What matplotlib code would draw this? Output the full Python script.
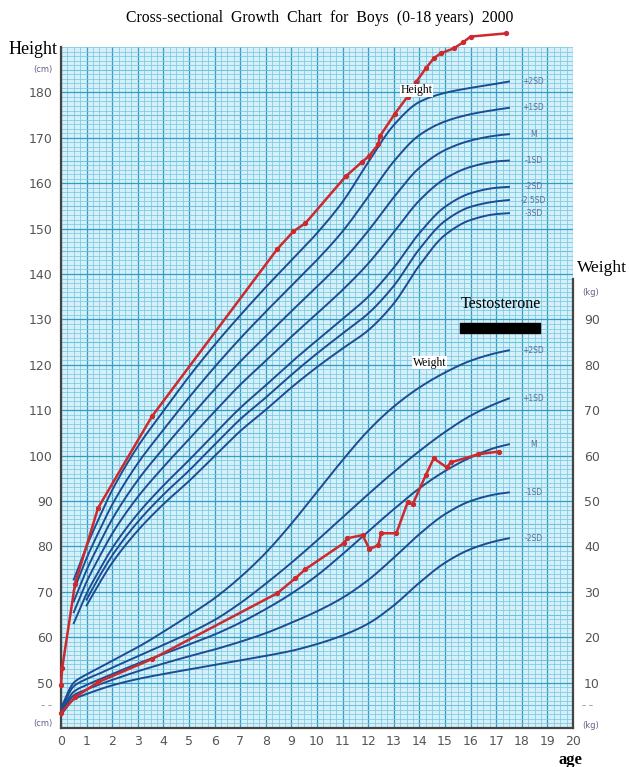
import numpy as np
import matplotlib
matplotlib.use('Agg')
import matplotlib.pyplot as plt

# ---- reference curves ----
h_ages = [0.5, 1, 1.5, 2, 3, 4, 5, 6, 7, 8, 9, 10, 11, 12, 13, 14, 15, 16, 17, 17.5]
h_p2 = [72.7, 80.0, 86.4, 92.4, 102.0, 109.8, 117.4, 124.4, 130.9, 137.1, 143.0, 149.0, 155.9, 164.6, 172.8, 177.9, 179.9, 181.0, 181.9, 182.4]
h_p1 = [70.3, 77.4, 83.5, 89.2, 98.3, 105.7, 112.8, 119.5, 125.8, 131.7, 137.4, 143.1, 149.4, 157.0, 164.8, 170.6, 173.6, 175.2, 176.2, 176.6]
h_m = [67.9, 74.8, 80.6, 86.0, 94.6, 101.6, 108.2, 114.6, 120.7, 126.3, 131.8, 137.2, 142.9, 149.5, 156.9, 163.4, 167.3, 169.4, 170.5, 170.8]
h_m1 = [65.5, 72.2, 77.7, 82.8, 90.9, 97.5, 103.6, 109.7, 115.6, 120.9, 126.2, 131.3, 136.5, 142.3, 149.2, 156.2, 161.0, 163.6, 164.8, 165.0]
h_m2 = [63.1, 69.6, 74.8, 79.6, 87.2, 93.4, 99.0, 104.8, 110.5, 115.5, 120.6, 125.4, 130.1, 135.0, 141.4, 149.0, 154.8, 157.8, 159.0, 159.2]
h_ages_low = h_ages[1:]
h_m25 = [68.3, 73.4, 78.0, 85.4, 91.4, 96.7, 102.4, 108.0, 112.8, 117.8, 122.5, 126.9, 131.3, 137.4, 145.5, 151.7, 154.8, 156.0, 156.3]
h_m3 = [67.0, 71.9, 76.4, 83.5, 89.3, 94.4, 99.9, 105.4, 110.1, 115.0, 119.5, 123.6, 127.6, 133.5, 141.9, 148.6, 151.9, 153.2, 153.4]
h_labels = ['+2SD', '+1SD', 'M', '-1SD', '-2SD', '-2.5SD', '-3SD']

w_ages = [0, 0.5, 1, 1.5, 2, 3, 4, 5, 6, 7, 8, 9, 10, 11, 12, 13, 14, 15, 16, 17, 17.5]
w_p2 = [4.4, 10.0, 11.8, 13.3, 14.8, 17.8, 21.2, 24.8, 28.6, 33.2, 38.6, 45.0, 52.0, 59.0, 65.5, 70.8, 75.0, 78.3, 80.9, 82.6, 83.2]
w_p1 = [4.0, 9.2, 10.8, 12.0, 13.3, 15.8, 18.3, 20.9, 23.8, 27.5, 31.8, 36.4, 41.3, 46.4, 51.5, 56.4, 61.0, 65.2, 68.8, 71.5, 72.6]
w_m = [3.6, 8.0, 9.5, 10.7, 11.9, 14.2, 16.3, 18.4, 20.6, 23.2, 26.2, 29.6, 33.6, 38.3, 43.3, 48.2, 52.8, 56.6, 59.6, 61.8, 62.5]
w_m1 = [3.2, 7.2, 8.5, 9.6, 10.6, 12.5, 14.2, 15.8, 17.3, 19.0, 20.9, 23.2, 25.7, 28.7, 32.6, 37.5, 42.7, 47.1, 50.0, 51.5, 51.9]
w_m2 = [2.9, 6.3, 7.5, 8.5, 9.4, 10.8, 11.9, 12.9, 13.9, 14.9, 15.9, 17.0, 18.5, 20.4, 23.0, 27.0, 32.0, 36.4, 39.4, 41.2, 41.8]
w_labels = ['+2SD', '+1SD', 'M', '-1SD', '-2SD']

# ---- patient measurements ----
pt_h_age = [0, 0.05, 0.55, 1.45, 3.56, 8.45, 9.08, 9.55, 11.12, 11.74, 12.02, 12.4, 12.45,
            13.03, 13.54, 13.86, 14.25, 14.56, 14.83, 15.34, 15.7, 16.0, 17.38]
pt_height = [49.5, 53.3, 71.8, 88.5, 108.7, 145.5, 149.4, 151.2, 161.5, 164.6, 165.9, 168.6, 170.3,
             175.2, 179.1, 182.2, 185.3, 187.5, 188.6, 189.7, 191.0, 192.3, 193.0]
pt_w_age = [0, 0.55, 1.45, 3.56, 8.45, 9.16, 9.55, 11.04, 11.19, 11.78, 12.05, 12.4, 12.5,
            13.1, 13.54, 13.74, 14.25, 14.56, 15.07, 15.22, 16.3, 17.1]
pt_weight = [3.3, 6.8, 10.1, 15.2, 29.7, 33.0, 35.0, 40.7, 41.8, 42.5, 39.4, 40.3, 42.9,
             42.9, 49.7, 49.3, 55.7, 59.4, 57.4, 58.5, 60.3, 60.9]

testo_start, testo_end = 15.6, 18.7
testo_low, testo_high = 86.9, 89.3

BLUE = '#1b4d94'
RED = '#cc2a2e'
SERIF = ['Liberation Serif', 'DejaVu Serif']


def pchip(x, y, xs):
    x = np.asarray(x, float)
    y = np.asarray(y, float)
    h = np.diff(x)
    d = np.diff(y) / h
    m = np.zeros_like(y)
    for k in range(1, len(x) - 1):
        if d[k - 1] * d[k] > 0:
            w1 = 2 * h[k] + h[k - 1]
            w2 = h[k] + 2 * h[k - 1]
            m[k] = (w1 + w2) / (w1 / d[k - 1] + w2 / d[k])
    m[0], m[-1] = d[0], d[-1]
    i = np.clip(np.searchsorted(x, xs) - 1, 0, len(h) - 1)
    t = (xs - x[i]) / h[i]
    return ((2 * t**3 - 3 * t**2 + 1) * y[i] + (t**3 - 2 * t**2 + t) * h[i] * m[i]
            + (-2 * t**3 + 3 * t**2) * y[i + 1] + (t**3 - t**2) * h[i] * m[i + 1])


def smooth_line(ax, x, y, **kw):
    xs = np.linspace(x[0], x[-1], 300)
    ax.plot(xs, pchip(x, y, xs), **kw)


fig = plt.figure(figsize=(6.3, 7.67), dpi=100)
ax = fig.add_axes([0.0968, 0.0508, 0.8127, 0.8879])
ax.set_xlim(0, 20)
ax.set_ylim(40, 190)
ax.set_facecolor('#d5f0f8')

# graph paper
ax.set_xticks(range(0, 21))
ax.set_xticks(np.arange(0, 20.01, 0.25), minor=True)
ax.set_yticks(range(50, 190, 10))
ax.set_yticks(range(40, 191), minor=True)
ax.grid(which='minor', color='#7ac8e2', lw=0.55)
ax.grid(which='major', color='#2f9dc5', lw=0.9)
for yv in range(45, 190, 10):
    ax.axhline(yv, color='#4eb0d3', lw=0.75, zorder=0.5)
ax.set_axisbelow(True)

ax.tick_params(which='both', length=0)
ax.tick_params(axis='y', pad=6, labelsize=9, labelcolor='#555555')
ax.tick_params(axis='x', pad=5, labelsize=9, labelcolor='#555555')
for s in ['top', 'right']:
    ax.spines[s].set_visible(False)
for s in ['left', 'bottom']:
    ax.spines[s].set_color('#444444')
    ax.spines[s].set_linewidth(1.6)

# height reference curves
h_curves = [h_p2, h_p1, h_m, h_m1, h_m2, h_m25, h_m3]
for lab, vals in zip(h_labels, h_curves):
    xa = h_ages if len(vals) == len(h_ages) else h_ages_low
    smooth_line(ax, xa, vals, color=BLUE, lw=1.4, zorder=3)
    ax.text(18.45, vals[-1], lab, fontsize=5.5, color='#5a6f9a', ha='center', va='center')

# weight on twin axis (same pixel scale, offset by 40)
ax2 = ax.twinx()
ax2.set_ylim(0, 150)
ax2.set_yticks(range(10, 100, 10))
ax2.tick_params(length=0, pad=8, labelsize=9, labelcolor='#555555')
for s in ['top', 'left', 'bottom']:
    ax2.spines[s].set_visible(False)
ax2.spines['right'].set_color('#444444')
ax2.spines['right'].set_linewidth(1.6)
ax2.spines['right'].set_bounds(0, 99)

w_curves = [w_p2, w_p1, w_m, w_m1, w_m2]
for lab, vals in zip(w_labels, w_curves):
    smooth_line(ax2, w_ages, vals, color=BLUE, lw=1.4, zorder=3)
    ax2.text(18.45, vals[-1], lab, fontsize=5.5, color='#5a6f9a', ha='center', va='center')

# patient
ax.plot(pt_h_age, pt_height, color=RED, lw=1.8, marker='o', ms=2.8, zorder=5, clip_on=False)
ax2.plot(pt_w_age, pt_weight, color=RED, lw=1.8, marker='o', ms=2.8, zorder=5, clip_on=False)

# testosterone bar
ax2.fill_between([testo_start, testo_end], testo_low, testo_high, color='black', zorder=6)
ax2.text(17.2, 93.5, 'Testosterone', fontsize=11.5, family=SERIF, ha='center', va='center')

ax.text(13.9, 180.5, 'Height', fontsize=8.5, family=SERIF, ha='center', va='center', zorder=6,
        bbox=dict(facecolor='white', edgecolor='none', pad=0.3))
ax2.text(14.4, 80.5, 'Weight', fontsize=8.5, family=SERIF, ha='center', va='center', zorder=6,
         bbox=dict(facecolor='white', edgecolor='none', pad=0.3))

# axis annotations
ax.text(-0.35, 185, '(cm)', fontsize=6, color='#6a5a8a', ha='right', va='center')
ax.text(-0.35, 41, '(cm)', fontsize=6, color='#6a5a8a', ha='right', va='center')
ax.text(-0.35, 45, '– –', fontsize=6, color='#888888', ha='right', va='center')
ax2.text(20.35, 96, '(kg)', fontsize=6, color='#6a5a8a', ha='left', va='center')
ax2.text(20.35, 0.5, '(kg)', fontsize=6, color='#6a5a8a', ha='left', va='center')
ax2.text(20.35, 5, '– –', fontsize=6, color='#888888', ha='left', va='center')

fig.text(0.508, 0.976, 'Cross-sectional  Growth  Chart  for  Boys  (0-18 years)  2000',
         fontsize=11.3, family=SERIF, ha='center', va='center')
fig.text(0.013, 0.936, 'Height', fontsize=13, family=SERIF, ha='left', va='center')
fig.text(0.916, 0.651, 'Weight', fontsize=12.5, family=SERIF, ha='left', va='center')
fig.text(0.906, 0.009, 'age', fontsize=12, family=SERIF, fontweight='bold', ha='center', va='center')

fig.savefig('out.png', dpi=100)
